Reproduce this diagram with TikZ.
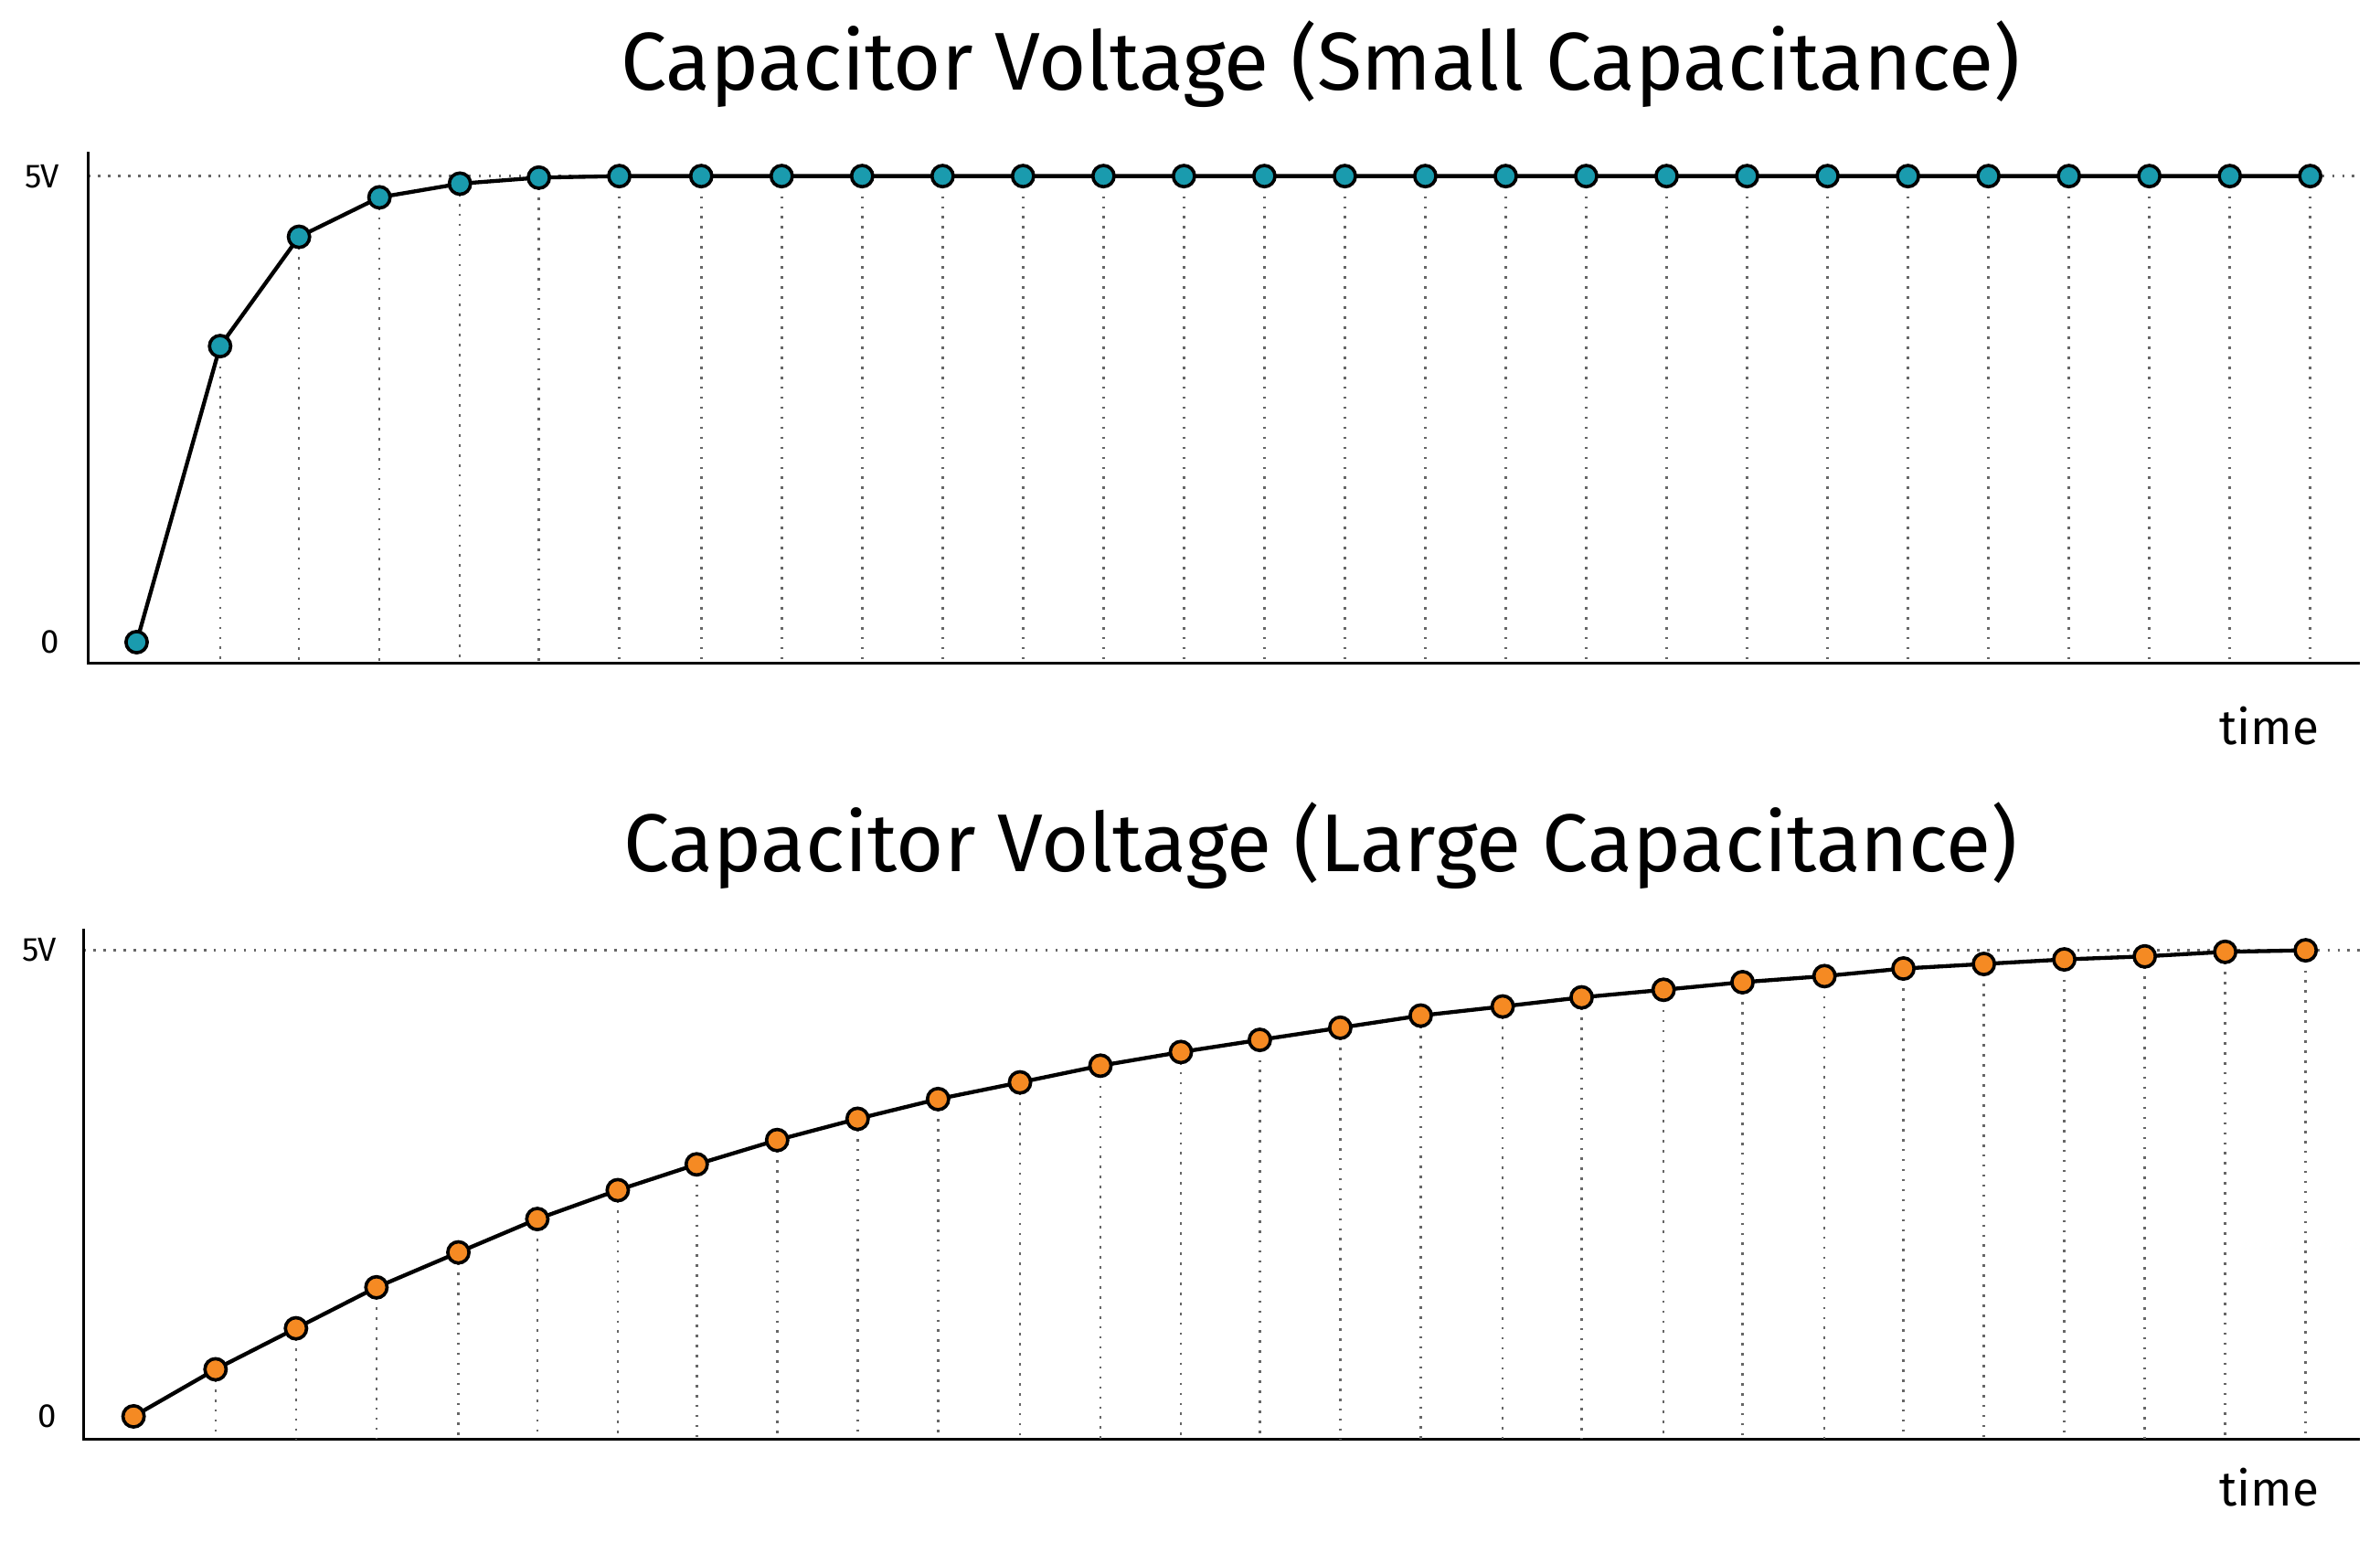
\documentclass[tikz,border=0pt]{standalone}
\usepackage{fontspec}
\setmainfont{Fira Sans}
\definecolor{teal1}{HTML}{1A9BAE}
\definecolor{orng}{HTML}{F58A23}
\begin{document}
\begin{tikzpicture}[x=1pt,y=-1pt,
  axis/.style={line width=2pt,black},
  grid/.style={dash pattern=on 1.6pt off 5pt,gray!80!black,line width=1.5pt},
  curve/.style={line width=2.6pt,black,line join=round},
  dotA/.style={circle,draw=black,line width=2.2pt,fill=teal1,minimum size=14pt,inner sep=0pt},
  dotB/.style={circle,draw=black,line width=2.2pt,fill=orng,minimum size=14pt,inner sep=0pt},
  ttl/.style={font=\fontsize{54}{60}\selectfont\mdseries},
  lbl/.style={font=\fontsize{22}{26}\selectfont},
  tlbl/.style={font=\fontsize{32}{36}\selectfont}]
\useasboundingbox (0,0) rectangle (1568,1016);
% titles
\node[ttl] (t1) at (870,42) {Capacitor Voltage (Small Capacitance)};
\node[ttl] (t2) at (870,557) {Capacitor Voltage (Large Capacitance)};
% top chart
\draw[grid] (58,116) -- (1555,116);
\draw[axis] (58,100) -- (58,437) -- (1555,437);
\node[lbl] (a5) at (28,116) {5V};
\node[lbl] (a0) at (33,423) {0};
\node[tlbl] (at) at (1495,478) {time};
\def\xsA{90,145,197,250,303,355,408,462,515,568,621,674,727,780,833,886,939,992,1045,1098,1151,1204,1257,1310,1363,1416,1469,1522}
\def\ysA{423,228,156,130,121,117,116,116,116,116,116,116,116,116,116,116,116,116,116,116,116,116,116,116,116,116,116,116}
\foreach \x [count=\i] in \xsA {
  \pgfmathsetmacro{\yy}{{\ysA}[\i-1]}
  \coordinate (pa\i) at (\x,\yy);
  \coordinate (ba\i) at (\x,437);
  \ifnum\i>1 \draw[grid] (pa\i) -- (ba\i); \fi
}
\draw[curve] (pa1) \foreach \i in {2,...,28}{ -- (pa\i)};
\foreach \i in {1,...,28} \node[dotA] (da\i) at (pa\i) {};
% bottom chart
\draw[grid] (55,626) -- (1555,626);
\draw[axis] (55,612) -- (55,948) -- (1555,948);
\node[lbl] (b5) at (26,626) {5V};
\node[lbl] (b0) at (31,933) {0};
\node[tlbl] (bt) at (1495,980) {time};
\def\xsB{88,142,195,248,302,354,407,459,512,565,618,672,725,778,830,883,936,990,1042,1096,1148,1202,1254,1307,1360,1413,1466,1519}
\def\ysB{933,902,875,848,825,803,784,767,751,737,724,713,702,693,685,677,669,663,657,652,647,643,638,635,632,630,627,626}
\foreach \x [count=\i] in \xsB {
  \pgfmathsetmacro{\yy}{{\ysB}[\i-1]}
  \coordinate (pb\i) at (\x,\yy);
  \coordinate (bb\i) at (\x,948);
  \ifnum\i>1 \draw[grid] (pb\i) -- (bb\i); \fi
}
\draw[curve] (pb1) \foreach \i in {2,...,28}{ -- (pb\i)};
\foreach \i in {1,...,28} \node[dotB] (db\i) at (pb\i) {};
\end{tikzpicture}
\end{document}
